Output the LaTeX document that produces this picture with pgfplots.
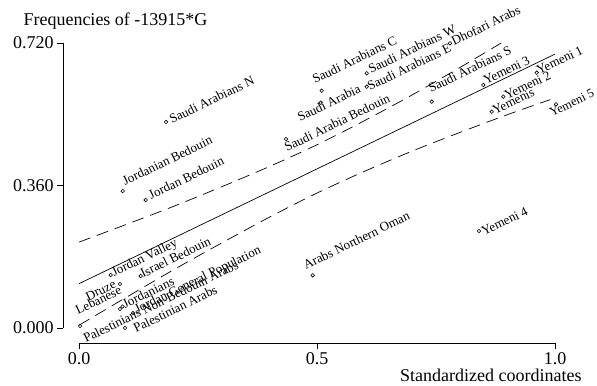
\documentclass[border=0pt]{standalone}
\usepackage{pgfplots}
\pgfplotsset{compat=1.18}
\usepackage{fontspec}
\setmainfont{Liberation Serif}
\begin{document}
\begin{tikzpicture}
\tikzset{lbl/.style={anchor=base west, rotate=26, inner sep=0pt, font=\fontsize{13bp}{15bp}\selectfont},
         lble/.style={anchor=base east, rotate=26, inner sep=0pt, font=\fontsize{13bp}{15bp}\selectfont}}
\begin{axis}[
  scale only axis, width=492bp, height=300bp,
  xmin=-0.0336, xmax=1.0, ymin=-0.0379, ymax=0.72,
  axis lines*=left, axis line style={draw=none},
  xtick={0,0.5,1}, ytick={0,0.36,0.72},
  tick align=outside, major tick length=6bp,
  tick style={black, line width=0.6bp},
  /pgf/number format/assume math mode=true,
  xticklabel style={/pgf/number format/fixed, /pgf/number format/fixed zerofill, /pgf/number format/precision=1},
  yticklabel style={/pgf/number format/fixed, /pgf/number format/fixed zerofill, /pgf/number format/precision=3},
  ticklabel style={font=\fontsize{18bp}{20bp}\selectfont, text=black},
  clip=false,
]
% spines
\draw[black, line width=0.7bp] (axis cs:-0.0336,0) -- (axis cs:-0.0336,0.72);
\draw[black, line width=0.7bp] (axis cs:0,-0.0379) -- (axis cs:1,-0.0379);

% fitted line
\addplot[black, line width=0.7bp] coordinates {(0,0.112) (1,0.692)};
% upper band
\addplot[black, line width=0.7bp, dash pattern=on 12bp off 7bp, smooth] coordinates {
(0,0.217) (0.1,0.262) (0.2,0.308) (0.3,0.357) (0.4,0.408) (0.5,0.463) (0.6,0.524) (0.7,0.589) (0.8,0.658) (0.887,0.72)};
% lower band
\addplot[black, line width=0.7bp, dash pattern=on 12bp off 7bp, smooth] coordinates {
(0,0.007) (0.1,0.078) (0.2,0.148) (0.3,0.215) (0.4,0.280) (0.5,0.341) (0.6,0.396) (0.7,0.447) (0.8,0.494) (0.9,0.539) (0.99,0.577)};

% populations
\addplot[only marks, mark=o, mark size=1.8bp, mark options={black, line width=0.6bp}] coordinates {
(0.1828,0.5205) % Saudi Arabians N
(0.0918,0.3461) % Jordanian Bedouin
(0.1401,0.3234) % Jordan Bedouin
(0.0666,0.1339) % Jordan Valley
(0.1296,0.1314) % Israel Bedouin
(0.0861,0.1112) % Druze
(0.0861,0.0480) % Lebanese
(0.0914,0.0543) % Jordanians
(0.1134,0.0379) % Jordan General Population
(0.0021,0.0051) % Palestinians Non-Bedouin Arabs
(0.0966,0.0000) % Palestinian Arabs
(0.4910,0.1331) % Arabs Northern Oman
(0.8403,0.2451) % Yemeni 4
(0.4349,0.4775) % Saudi Arabia Bedouin
(0.5078,0.5692) % Saudi Arabia
(0.5099,0.5995) % Saudi Arabians C
(0.6044,0.6435) % Saudi Arabians W
(0.6044,0.6097) % Saudi Arabians E
(0.7794,0.7193) % Dhofari Arabs
(0.7410,0.5718) % Saudi Arabians S
(0.8494,0.6139) % Yemeni 3
(0.9616,0.6450) % Yemeni 1
(0.8914,0.5844) % Yemeni 2
(0.8670,0.5465) % Yemenis
(1.0021,0.5652) % Yemeni 5
};

% labels
\node[lbl] at (axis cs:0.1954,0.5154) {Saudi Arabians N};
\node[lbl] at (axis cs:0.0966,0.3588) {Jordanian Bedouin};
\node[lbl] at (axis cs:0.1513,0.3234) {Jordan Bedouin};
\node[lbl] at (axis cs:0.0735,0.1289) {Jordan Valley};
\node[lbl] at (axis cs:0.1345,0.1263) {Israel Bedouin};
\node[lble] at (axis cs:0.0798,0.1036) {Druze};
\node[lbl] at (axis cs:-0.0021,0.0328) {Lebanese};
\node[lbl] at (axis cs:0.0966,0.0480) {Jordanians};
\node[lbl] at (axis cs:0.1218,0.0354) {Jordan General Population};
\node[lbl] at (axis cs:0.0147,-0.0379) {Palestinians Non-Bedouin Arabs};
\node[lbl] at (axis cs:0.1197,-0.0126) {Palestinian Arabs};
\node[lbl] at (axis cs:0.4769,0.1465) {Arabs Northern Oman};
\node[lbl] at (axis cs:0.8508,0.2324) {Yemeni 4};
\node[lbl] at (axis cs:0.4370,0.4447) {Saudi Arabia Bedouin};
\node[lbl] at (axis cs:0.4643,0.5205) {Saudi Arabia};
\node[lbl] at (axis cs:0.4958,0.6165) {Saudi Arabians C};
\node[lbl] at (axis cs:0.6134,0.6417) {Saudi Arabians W};
\node[lbl] at (axis cs:0.6113,0.5988) {Saudi Arabians E};
\node[lbl] at (axis cs:0.7878,0.7125) {Dhofari Arabs};
\node[lbl] at (axis cs:0.7395,0.5937) {Saudi Arabians S};
\node[lbl] at (axis cs:0.8550,0.6139) {Yemeni 3};
\node[lbl] at (axis cs:0.9664,0.6392) {Yemeni 1};
\node[lbl] at (axis cs:0.8992,0.5761) {Yemeni 2};
\node[lbl] at (axis cs:0.8739,0.5382) {Yemenis};
\node[lbl, font=\fontsize{12.5bp}{14bp}\selectfont] at (axis cs:0.9937,0.5331) {Yemeni 5};

% titles
\node[anchor=base west, inner sep=0pt, font=\fontsize{18bp}{20bp}\selectfont] at (axis cs:-0.117,0.7643) {Frequencies of -13915*G};
\node[anchor=base east, inner sep=0pt, font=\fontsize{18bp}{20bp}\selectfont] at (axis cs:1.0561,-0.1339) {Standardized coordinates};

\coordinate (BL) at (axis cs:-0.166,-0.144);
\coordinate (TR) at (axis cs:1.0882,0.8287);
\end{axis}
\pgfresetboundingbox
\path[use as bounding box] (BL) rectangle (TR);
\end{tikzpicture}
\end{document}
